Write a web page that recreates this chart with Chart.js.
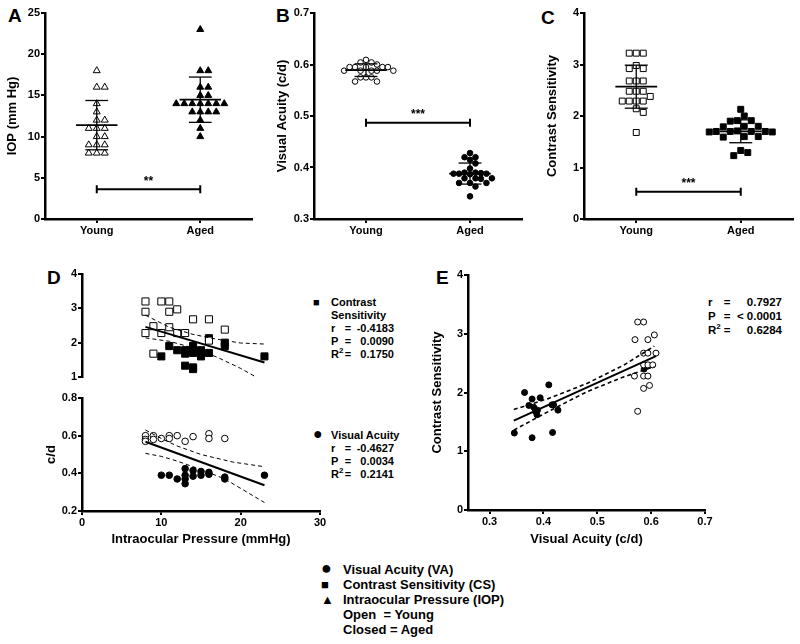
<!DOCTYPE html>
<html>
<head>
<meta charset="utf-8">
<script src="https://cdn.jsdelivr.net/npm/chart.js@4.4.0/dist/chart.umd.min.js"></script>
<style>
body { margin: 0; background: #fff; }
#wrap { position: relative; width: 800px; height: 644px; overflow: hidden; font-family: "Liberation Sans", Arial, sans-serif; font-weight: bold; color: #000; }
canvas { position: absolute; }
.lbl { position: absolute; white-space: nowrap; }
.letter { font-size: 19px; line-height: 19px; }
.stat { font-size: 11px; line-height: 13px; }
.stat span, .legend span, .estat span { display: inline-block; }
.stat .s { width: 18px; }
.stat .k { width: 11px; }
.stat .eq { width: 12px; text-align: center; }
.stat .v { width: 40px; text-align: right; }
.estat { font-size: 11.5px; line-height: 14px; }
.estat .k { width: 14px; }
.estat .eq { width: 10px; text-align: center; }
.estat .v { width: 50px; text-align: right; }
.legend { font-size: 13px; line-height: 15px; }
.legend .s { width: 22px; }
.big { font-size: 16px; line-height: 10px; }
sup { font-size: 8px; line-height: 0; }
</style>
</head>
<body>
<div id="wrap">
  <div class="lbl letter" style="left:8px;top:6px">A</div>
  <div class="lbl letter" style="left:276px;top:6px">B</div>
  <div class="lbl letter" style="left:541px;top:8px">C</div>
  <div class="lbl letter" style="left:47px;top:268px">D</div>
  <div class="lbl letter" style="left:436px;top:268px">E</div>

  <div class="lbl stat" style="left:313px;top:296px">
    <div><span class="s">■</span>Contrast</div>
    <div><span class="s"></span>Sensitivity</div>
    <div><span class="s"></span><span class="k">r</span><span class="eq">=</span><span class="v">-0.4183</span></div>
    <div><span class="s"></span><span class="k">P</span><span class="eq">=</span><span class="v">0.0090</span></div>
    <div><span class="s"></span><span class="k">R<sup>2</sup></span><span class="eq">=</span><span class="v">0.1750</span></div>
  </div>
  <div class="lbl stat" style="left:313px;top:429px">
    <div><span class="s big">●</span>Visual Acuity</div>
    <div><span class="s"></span><span class="k">r</span><span class="eq">=</span><span class="v">-0.4627</span></div>
    <div><span class="s"></span><span class="k">P</span><span class="eq">=</span><span class="v">0.0034</span></div>
    <div><span class="s"></span><span class="k">R<sup>2</sup></span><span class="eq">=</span><span class="v">0.2141</span></div>
  </div>
  <div class="lbl estat" style="left:708px;top:295px">
    <div><span class="k">r</span><span class="eq">=</span><span class="v">0.7927</span></div>
    <div><span class="k">P</span><span class="eq">=</span><span class="v">&lt; 0.0001</span></div>
    <div><span class="k">R<sup>2</sup></span><span class="eq">=</span><span class="v">0.6284</span></div>
  </div>

  <div class="lbl legend" style="left:321px;top:562px">
    <div><span class="s big" style="font-size:18px">●</span>Visual Acuity (VA)</div>
    <div><span class="s">■</span>Contrast Sensitivity (CS)</div>
    <div><span class="s">▲</span>Intraocular Pressure (IOP)</div>
    <div style="white-space:pre"><span class="s"></span>Open  = Young</div>
    <div><span class="s"></span>Closed = Aged</div>
  </div>
</div>

<script>
// ---- data ----
const groups = ['Young', 'Aged'];

// A: IOP (mm Hg)
const iopYoung = [18, 16, 16, 14, 13, 12, 12, 11, 11, 11, 10, 10, 9, 9, 9, 8, 8, 8];
const iopAged = [23, 18, 18, 16, 16, 15, 15, 14, 14, 14, 14, 14, 14, 14, 13, 13, 13, 13, 12, 11, 10];
const iopTicks = [0, 5, 10, 15, 20, 25];

// B: visual acuity (c/d)
const vaYoung = [0.609, 0.604, 0.604, 0.600, 0.595, 0.595, 0.595, 0.595, 0.595, 0.588, 0.588, 0.588, 0.588, 0.588, 0.575, 0.575, 0.575, 0.567, 0.567];
const vaAged = [0.428, 0.420, 0.420, 0.415, 0.408, 0.398, 0.390, 0.390, 0.389, 0.388, 0.388, 0.388, 0.387, 0.379, 0.379, 0.379, 0.378, 0.370, 0.370, 0.370, 0.363, 0.344];
const vaTicks = [0.3, 0.4, 0.5, 0.6, 0.7];

// C: contrast sensitivity
const csYoung = [3.22, 3.22, 3.22, 2.98, 2.92, 2.92, 2.68, 2.68, 2.68, 2.48, 2.48, 2.48, 2.38, 2.29, 2.29, 2.29, 2.29, 2.14, 2.07, 1.68];
const csAged = [2.13, 2.00, 1.91, 1.91, 1.90, 1.80, 1.80, 1.79, 1.71, 1.70, 1.70, 1.70, 1.70, 1.69, 1.69, 1.60, 1.60, 1.59, 1.33, 1.29, 1.23];
const csTicks = [0, 1, 2, 3, 4];

// significance bars
const sigA = { y: 3.6, text: '**' };
const sigB = { y: 0.487, text: '***' };
const sigC = { y: 0.53, text: '***' };

// D: IOP vs CS (top) and IOP vs VA (bottom)
const dYoungIop = [8, 10, 11, 8, 11, 12, 9, 11, 8, 10, 12, 13, 14, 16, 18, 16, 9];
const dYoungCs = [3.2, 3.2, 3.2, 2.9, 2.9, 2.97, 2.48, 2.45, 2.28, 2.28, 2.28, 2.28, 2.68, 2.68, 2.38, 2.06, 1.68];
const dAgedIop = [10, 11, 12, 13, 13, 13, 14, 14, 14, 14, 14, 15, 15, 16, 16, 18, 18, 23];
const dAgedCs = [1.6, 1.9, 1.78, 1.78, 1.68, 1.33, 1.9, 1.8, 1.7, 1.28, 1.23, 1.78, 1.6, 1.7, 2.13, 2.0, 1.9, 1.6];
const dYoungIopVa = [8, 8, 8, 9, 9, 10, 11, 11, 12, 13, 14, 16, 16, 18];
const dYoungVa = [0.6, 0.58, 0.57, 0.6, 0.58, 0.585, 0.6, 0.585, 0.6, 0.57, 0.595, 0.61, 0.585, 0.585];
const dAgedIopVa = [10, 11, 12, 13, 13, 13, 13, 14, 14, 15, 15, 16, 16, 18, 18, 23];
const dAgedVa = [0.39, 0.39, 0.37, 0.425, 0.39, 0.37, 0.345, 0.415, 0.385, 0.41, 0.39, 0.405, 0.395, 0.38, 0.37, 0.39];

const fitCsX = [8, 23], fitCsY = [2.46, 1.42];
const bandCsHiX = [8, 11, 14, 17, 20, 23], bandCsHi = [2.8, 2.45, 2.24, 2.1, 1.99, 1.96];
const bandCsLoX = [8, 11, 14, 17, 20, 21.7], bandCsLo = [2.14, 2.04, 1.85, 1.58, 1.25, 1.03];
const fitVaX = [8, 23], fitVaY = [0.568, 0.337];
const bandVaHiX = [8, 10, 12, 15, 19, 23], bandVaHi = [0.63, 0.585, 0.545, 0.5, 0.46, 0.435];
const bandVaLoX = [8, 10, 12, 15, 18, 23], bandVaLo = [0.506, 0.49, 0.465, 0.42, 0.37, 0.245];
const iopAxisTicks = [0, 10, 20, 30];
const dCsTicks = [1, 2, 3, 4];
const dVaTicks = [0.2, 0.4, 0.6, 0.8];

// E: VA vs CS
const eYoungVa = [0.575, 0.586, 0.57, 0.594, 0.606, 0.586, 0.594, 0.609, 0.586, 0.594, 0.603, 0.569, 0.586, 0.594, 0.586, 0.597, 0.575];
const eYoungCs = [3.2, 3.2, 2.9, 2.9, 2.98, 2.67, 2.67, 2.67, 2.47, 2.47, 2.47, 2.28, 2.28, 2.28, 2.07, 2.12, 1.68];
const eAgedVa = [0.346, 0.365, 0.373, 0.379, 0.379, 0.382, 0.385, 0.388, 0.389, 0.394, 0.41, 0.416, 0.419, 0.417, 0.427, 0.587];
const eAgedCs = [1.31, 2.0, 1.78, 1.89, 1.23, 1.75, 1.68, 1.62, 1.70, 1.91, 2.13, 1.79, 1.79, 1.32, 1.70, 2.4];
const fitEX = [0.345, 0.609], fitEY = [1.52, 2.62];
const bandEX = [0.345, 0.41, 0.48, 0.55, 0.606];
const bandEHi = [1.71, 1.90, 2.15, 2.47, 2.79];
const bandELo = [1.36, 1.68, 2.01, 2.27, 2.44];
const eVaTicks = [0.3, 0.4, 0.5, 0.6, 0.7];

// ---- helpers ----
const FONT = '"Liberation Sans", Arial, sans-serif';
Chart.defaults.font.family = FONT;
Chart.defaults.font.weight = 'bold';
Chart.defaults.color = '#000';

const zip = (xs, ys) => xs.map((x, i) => ({ x, y: ys[i] }));

// spread points with the same value sideways, like a column scatter
function swarm(vals, xc, area, xr, yr, d) {
  const pxX = (area[2] - area[0]) / (xr[1] - xr[0]);
  const pxY = (area[3] - area[1]) / (yr[1] - yr[0]);
  const placed = [];
  vals.forEach(v => {
    const y = v * pxY;
    for (let k = 0; k < 40; k++) {
      const off = (k % 2 ? 1 : -1) * Math.ceil(k / 2) * d / 2;
      if (!placed.some(p => Math.hypot(p.o - off, p.y - y) < d)) { placed.push({ o: off, y, v }); break; }
    }
  });
  return placed.map(p => ({ x: xc + p.o / pxX, y: p.v }));
}

function marks(pts, style, open, r) {
  return { data: pts, pointStyle: style, pointRadius: r, borderWidth: 1, borderColor: '#000',
           backgroundColor: open ? '#fff' : '#000', showLine: false };
}

function line(pts, w, dash) {
  return { data: pts, showLine: true, borderColor: '#000', borderWidth: w, borderDash: dash || [], pointRadius: 0 };
}

function meanSd(vals, xc) {
  const m = vals.reduce((a, b) => a + b, 0) / vals.length;
  const sd = Math.sqrt(vals.reduce((a, b) => a + (b - m) ** 2, 0) / (vals.length - 1));
  return [
    line([{ x: xc - 0.2, y: m }, { x: xc + 0.2, y: m }], 1.8),
    line([{ x: xc - 0.11, y: m + sd }, { x: xc + 0.11, y: m + sd }], 1.3),
    line([{ x: xc - 0.11, y: m - sd }, { x: xc + 0.11, y: m - sd }], 1.3),
    line([{ x: xc, y: m - sd }, { x: xc, y: m + sd }], 1.3)
  ];
}

function axis(min, max, ticks, fmt, title, titlePad, show) {
  return {
    type: 'linear', min, max, display: show !== false,
    afterBuildTicks: s => { s.ticks = ticks.map(v => ({ value: v })); },
    grid: { drawOnChartArea: false, tickLength: 4, color: '#000', lineWidth: 2 },
    border: { color: '#000', width: 2.5 },
    ticks: { color: '#000', padding: 1, font: { size: 11, weight: 'bold' }, callback: fmt },
    title: title ? { display: true, text: title, color: '#000', font: { size: 13, weight: 'bold' }, padding: titlePad }
                 : { display: false }
  };
}

const sigBar = {
  id: 'sigBar',
  afterDatasetsDraw(chart, args, opts) {
    if (!opts || opts.y === undefined) return;
    const { ctx, scales: { x, y } } = chart;
    const x1 = x.getPixelForValue(1), x2 = x.getPixelForValue(2), yp = y.getPixelForValue(opts.y);
    ctx.save();
    ctx.strokeStyle = '#000';
    ctx.lineWidth = 2;
    ctx.beginPath();
    ctx.moveTo(x1, yp); ctx.lineTo(x2, yp);
    ctx.moveTo(x1, yp - 4); ctx.lineTo(x1, yp + 4);
    ctx.moveTo(x2, yp - 4); ctx.lineTo(x2, yp + 4);
    ctx.stroke();
    ctx.fillStyle = '#000';
    ctx.font = 'bold 12px ' + FONT;
    ctx.textAlign = 'center';
    ctx.textBaseline = 'bottom';
    ctx.fillText(opts.text, (x1 + x2) / 2, yp - 2);
    ctx.restore();
  }
};

// box = canvas [left, top, width, height]; area = plot area [left, top, right, bottom] in page px
function makeChart(box, area, datasets, xOpt, yOpt, sig) {
  const cv = document.createElement('canvas');
  cv.width = box[2];
  cv.height = box[3];
  cv.style.left = box[0] + 'px';
  cv.style.top = box[1] + 'px';
  document.getElementById('wrap').appendChild(cv);
  const xHidden = xOpt.display === false;
  xOpt.afterFit = s => { s.height = box[1] + box[3] - area[3]; };
  yOpt.afterFit = s => { s.width = area[0] - box[0]; };
  return new Chart(cv, {
    type: 'scatter',
    data: { datasets },
    options: {
      responsive: false,
      animation: false,
      layout: { padding: { left: 0, top: area[1] - box[1], right: box[0] + box[2] - area[2],
                           bottom: xHidden ? box[1] + box[3] - area[3] : 0 } },
      scales: { x: xOpt, y: yOpt },
      plugins: { legend: { display: false }, tooltip: { enabled: false }, sigBar: sig || {} }
    },
    plugins: sig ? [sigBar] : []
  });
}

const groupFmt = v => groups[v - 1];
const groupTicks = [1, 2];
const f1 = v => v.toFixed(1);

// ---- A ----
const areaA = [45, 13, 252, 219];
makeChart([0, 0, 262, 245], areaA, [
  ...meanSd(iopYoung, 1), ...meanSd(iopAged, 2),
  marks(swarm(iopYoung, 1, areaA, [0.5, 2.5], [0, 25], 8), 'triangle', true, 4),
  marks(swarm(iopAged, 2, areaA, [0.5, 2.5], [0, 25], 8), 'triangle', false, 4)
], axis(0.5, 2.5, groupTicks, groupFmt),
   axis(0, 25, iopTicks, v => v, 'IOP (mm Hg)', { top: 5, bottom: 0 }), sigA);

// ---- B ----
const areaB = [314, 13, 523, 219];
makeChart([262, 0, 265, 245], areaB, [
  ...meanSd(vaYoung, 1), ...meanSd(vaAged, 2),
  marks(swarm(vaYoung, 1, areaB, [0.5, 2.5], [0.3, 0.7], 5.5), 'circle', true, 2.8),
  marks(swarm(vaAged, 2, areaB, [0.5, 2.5], [0.3, 0.7], 5.5), 'circle', false, 2.8)
], axis(0.5, 2.5, groupTicks, groupFmt),
   axis(0.3, 0.7, vaTicks, f1, 'Visual Acuity (c/d)', { top: 13, bottom: 0 }), sigB);

// ---- C ----
const areaC = [584, 13, 793, 219];
makeChart([527, 0, 273, 245], areaC, [
  ...meanSd(csYoung, 1), ...meanSd(csAged, 2),
  marks(swarm(csYoung, 1, areaC, [0.5, 2.5], [0, 4], 7), 'rect', true, 4.2),
  marks(swarm(csAged, 2, areaC, [0.5, 2.5], [0, 4], 7), 'rect', false, 4.2)
], axis(0.5, 2.5, groupTicks, groupFmt),
   axis(0, 4, csTicks, v => v, 'Contrast Sensitivity', { top: 18, bottom: 0 }), sigC);

// ---- D (top: CS) ----
makeChart([0, 262, 400, 131], [82, 274, 320, 385], [
  line(zip(fitCsX, fitCsY), 2),
  line(zip(bandCsHiX, bandCsHi), 1, [4, 3]),
  line(zip(bandCsLoX, bandCsLo), 1, [4, 3]),
  marks(zip(dYoungIop, dYoungCs), 'rect', true, 5),
  marks(zip(dAgedIop, dAgedCs), 'rect', false, 5)
], axis(0, 30, iopAxisTicks, v => v, null, null, false),
   axis(1, 4, dCsTicks, v => v));

// ---- D (bottom: VA) ----
makeChart([0, 388, 400, 166], [82, 398, 320, 511], [
  line(zip(fitVaX, fitVaY), 2),
  line(zip(bandVaHiX, bandVaHi), 1, [4, 3]),
  line(zip(bandVaLoX, bandVaLo), 1, [4, 3]),
  marks(zip(dYoungIopVa, dYoungVa), 'circle', true, 3.3),
  marks(zip(dAgedIopVa, dAgedVa), 'circle', false, 3.3)
], axis(0, 30, iopAxisTicks, v => v, 'Intraocular Pressure (mmHg)', { top: 0, bottom: 7 }),
   axis(0.2, 0.8, dVaTicks, f1, 'c/d', { top: 44, bottom: 0 }));

// ---- E ----
makeChart([400, 262, 400, 292], [468, 275, 705, 510], [
  line(zip(fitEX, fitEY), 2),
  line(zip(bandEX, bandEHi), 1.6, [4, 3]),
  line(zip(bandEX, bandELo), 1.6, [4, 3]),
  marks(zip(eYoungVa, eYoungCs), 'circle', true, 3),
  marks(zip(eAgedVa, eAgedCs), 'circle', false, 3)
], axis(0.26, 0.7, eVaTicks, f1, 'Visual Acuity (c/d)', { top: 0, bottom: 7 }),
   axis(0, 4, csTicks, v => v, 'Contrast Sensitivity', { top: 30, bottom: 0 }));
</script>
</body>
</html>
